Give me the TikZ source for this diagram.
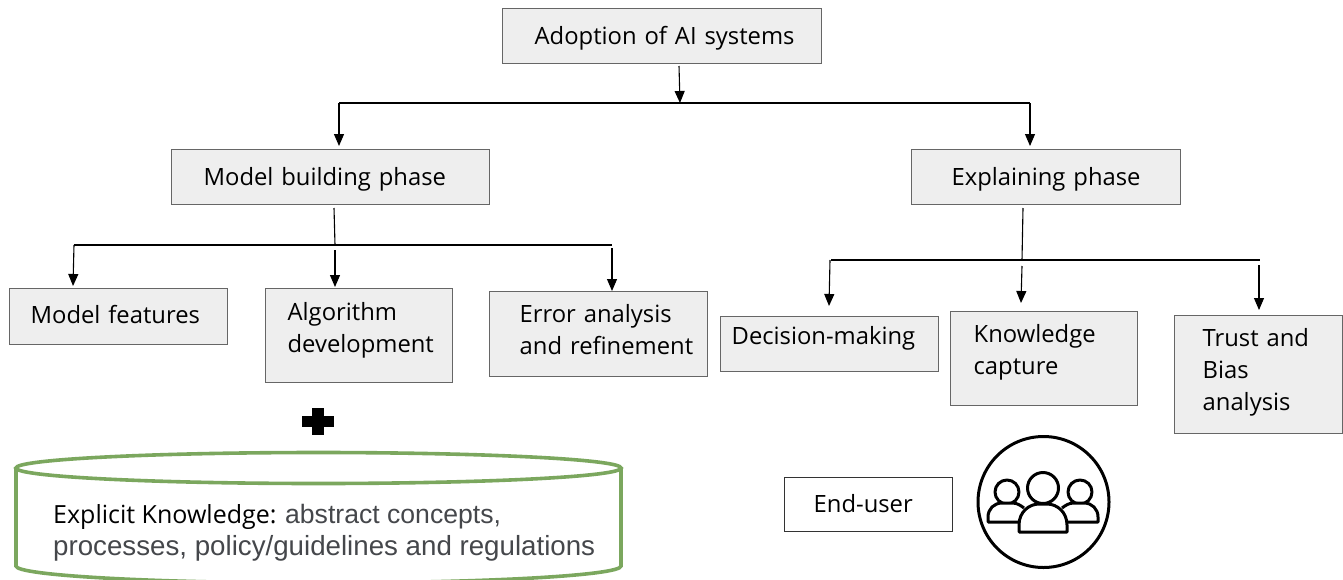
\documentclass[tikz,border=0pt]{standalone}
\usepackage{fontspec}
\setmainfont{Open Sans}
\newfontfamily\bodyfont{Liberation Sans}
\definecolor{boxfill}{HTML}{EEEEEE}
\definecolor{boxline}{HTML}{666666}
\definecolor{cylgreen}{HTML}{7BA75E}
\definecolor{bodygray}{HTML}{45474B}
\usetikzlibrary{arrows.meta}
\tikzset{
  lbl/.style={font=\fontsize{23.8}{32}\selectfont},
  stagebox/.style={lbl,draw=boxline,fill=boxfill,line width=1.3pt,inner xsep=0pt,inner ysep=0pt,align=left},
  whitebox/.style={lbl,draw=black!80,fill=white,line width=1.3pt,inner xsep=0pt,inner ysep=0pt,align=left},
  inset/.style 2 args={execute at begin node={\leftskip=#1pt\relax\strut},execute at end node={\strut\par\vspace{#2pt}}},
  conn/.style={line width=1.1pt,black},
  arr/.style={conn,-{Triangle[length=12pt,width=10pt]}},
  cyl/.style={draw=cylgreen,line width=3.6pt},
  icon/.style={draw=black,line width=3pt,line join=round}
}
\newcommand{\boxat}[9][stagebox]{% style, name, x0, y0, x1, y1, inset, up, text
  \node[#1,inset={#7}{#8},anchor=north west,text width={(#5-#3)*1pt},minimum height={(#6-#4)*1pt}] (#2) at (#3,#4) {#9};}
\begin{document}
\begin{tikzpicture}[x=1pt,y=-1pt]
\useasboundingbox (0,0) rectangle (1343,579);
\clip (0,0) rectangle (1343,579);
\boxat{adopt}{502}{8}{821}{63}{32}{-3}{Adoption of AI systems}
\boxat{build}{171}{149}{489}{204}{32}{-3}{Model building phase}
\boxat{expl}{911}{149}{1180}{204}{40}{-3}{Explaining phase}
\boxat{feat}{9}{288}{227}{344}{21}{-1}{Model features}
\boxat{algo}{265}{288}{452}{382}{22}{11}{Algorithm\\development}
\boxat{err}{489}{291}{707}{376}{30}{4}{Error analysis\\and refinement}
\boxat{dec}{720}{316}{938}{371}{11}{12}{Decision-making}
\boxat{know}{950}{311}{1137}{405}{23}{13}{Knowledge\\capture}
\boxat{trust}{1174}{315}{1342}{433}{28}{5}{Trust and\\Bias\\analysis}
\boxat[whitebox]{user}{784}{477}{952}{531}{29}{-3}{End-user}
% junctions
\coordinate (j1) at (680,103);
\coordinate (j1l) at (339,103);
\coordinate (j1r) at (1030,103);
\coordinate (j2) at (335,245);
\coordinate (j2l) at (74,245);
\coordinate (j2r) at (612,245);
\coordinate (j3) at (1022,260);
\coordinate (j3l) at (831,260);
\coordinate (j3r) at (1260,260);
% top level
\draw[arr] (679,66) -- (j1);
\draw[conn] (j1l) -- (j1r);
\draw[arr] (j1l) -- (339,146);
\draw[arr] (j1r) -- (1030,146);
% model building
\draw[conn] (334,208) -- (j2);
\draw[conn] (j2l) -- (j2r);
\draw[arr] (j2l) -- (73,286);
\draw[arr] (335,250) -- (335,287);
\draw[arr] (612,248) -- (612,291);
% explaining
\draw[conn] (1023,208) -- (j3);
\draw[conn] (j3l) -- (j3r);
\draw[arr] (830,260) -- (829,306);
\draw[arr] (1022,266) -- (1021,303);
\draw[arr] (1259,265) -- (1259,310);
% plus
\fill[black] (312,408) rectangle (324,435);
\fill[black] (302,416) rectangle (334,427);
% cylinder
\draw[cyl] (16,468) -- (16,566) arc[start angle=180,end angle=0,x radius=302.5,y radius=17] -- (621,468);
\draw[cyl,fill=white] (318.5,468) ellipse[x radius=302.5,y radius=15.5];
\node[anchor=north west,inner sep=0pt,align=left,font=\fontsize{25}{32}\selectfont] (cyltext) at (53,504)
  {Explicit Knowledge: {\bodyfont\fontsize{26.6}{32}\selectfont\color{bodygray}abstract concepts,}\\
   {\bodyfont\fontsize{27.7}{32}\selectfont\color{bodygray}processes, policy/guidelines and regulations}};
% icon
\draw[icon] (1043.5,502) circle[radius=65.5];
\draw[icon] (1007,492) circle[radius=12];
\draw[icon] (1080,492) circle[radius=12];
\draw[icon,fill=white] (1019,522) -- (988,522) -- (988,517) .. controls (988,509) and (994,503) .. (1002,503) -- (1012,503) .. controls (1017,503) and (1020,505) .. (1024,508);
\draw[icon,fill=white] (1067,522) -- (1098,522) -- (1098,517) .. controls (1098,509) and (1092,503) .. (1084,503) -- (1074,503) .. controls (1069,503) and (1066,505) .. (1062,508);
\draw[icon] (1043,488) circle[radius=15.5];
\draw[icon,fill=white] (1019,532) -- (1019,525) .. controls (1019,512) and (1029,504) .. (1039,504) -- (1047,504) .. controls (1057,504) and (1067,512) .. (1067,525) -- (1067,532) -- cycle;
\end{tikzpicture}
\end{document}
